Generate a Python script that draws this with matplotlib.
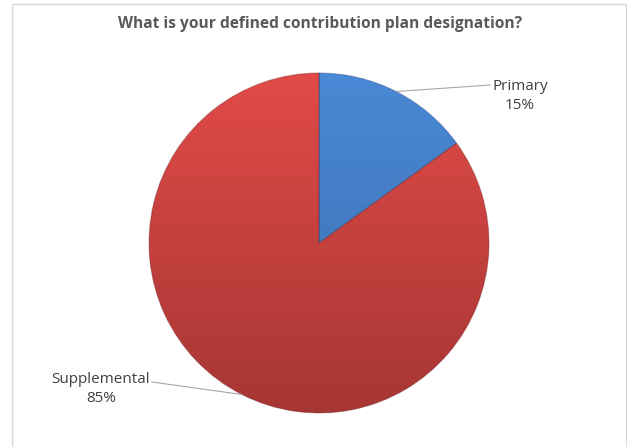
import numpy as np
import matplotlib.pyplot as plt
from matplotlib.colors import LinearSegmentedColormap

title = "What is your defined contribution plan designation?"
categories = ["Primary", "Supplemental"]
shares = [15, 85]

# top / bottom shades for each slice
shades = {
    "Primary": ("#4A89D6", "#3A6CAC"),
    "Supplemental": ("#E14B48", "#A63634"),
}

W, H = 627, 447
fig = plt.figure(figsize=(W / 100, H / 100), dpi=100)
ax = fig.add_axes([0, 0, 1, 1])

cx, cy, r = 319, H - 243, 170
wedges, _ = ax.pie(shares, startangle=90, counterclock=False,
                   center=(cx, cy), radius=r,
                   wedgeprops=dict(linewidth=0, facecolor="none"))
ax.set_xlim(0, W)
ax.set_ylim(0, H)
ax.set_aspect("auto")
ax.axis("off")

# vertical gradient fill clipped to each wedge
grad = np.linspace(0, 1, 256).reshape(-1, 1)
for w, name in zip(wedges, categories):
    top, bot = shades[name]
    cmap = LinearSegmentedColormap.from_list(name, [bot, top])
    im = ax.imshow(grad, cmap=cmap, origin="lower", aspect="auto",
                   extent=(cx - r, cx + r, cy - r, cy + r), zorder=1)
    im.set_clip_path(w)
    w.set_edgecolor((0.45, 0.12, 0.12, 0.35) if name == "Supplemental" else (0.15, 0.25, 0.45, 0.35))
    w.set_linewidth(0.8)
    w.set_zorder(2)

# chart frame
ax.add_patch(plt.Rectangle((12, -5), W - 13.5, H - 4 + 5, fill=False,
                           edgecolor="#D9D9D9", linewidth=1.0, zorder=0))

ax.text(cx + 1, H - 24, title, ha="center", va="center", fontsize=11.2,
        fontweight="bold", color="#595959", family="Open Sans")

# data labels with leader lines
total = sum(shares)
start = 90.0
label_pos = {"Primary": (520, H - 96, 490, H - 85),
             "Supplemental": (101, H - 389, 152, H - 382)}
for name, val in zip(categories, shares):
    mid = np.deg2rad(start - 360 * val / total / 2)
    start -= 360 * val / total
    px, py = cx + r * np.cos(mid), cy + r * np.sin(mid)
    tx, ty, lx, ly = label_pos[name]
    ax.plot([px, lx], [py, ly], color="#A6A6A6", linewidth=0.8, zorder=3)
    ax.text(tx, ty, f"{name}\n{val}%", ha="center", va="center",
            fontsize=11.0, color="#404040", family="Open Sans",
            linespacing=1.35)

fig.savefig("out.png", dpi=100, facecolor="white")
